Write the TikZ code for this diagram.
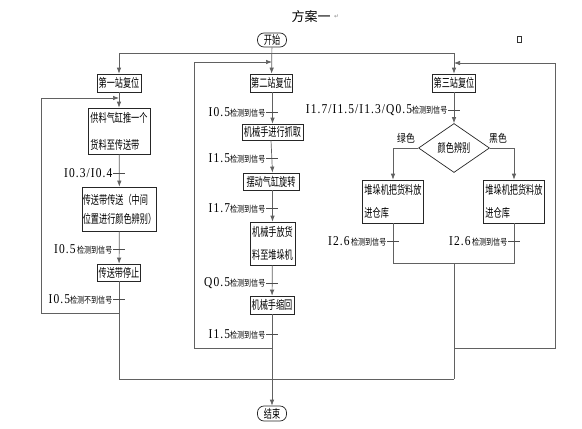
\documentclass[tikz,border=0pt]{standalone}
\usepackage{fontspec}
\setmainfont{Liberation Serif}
\newfontfamily\cjk[FakeStretch=0.68]{Noto Sans CJK SC}
\newfontfamily\cjks[FakeStretch=0.8]{Noto Sans CJK SC}
\newfontfamily\cjkt{Noto Sans CJK SC}
\newfontfamily\lat[FakeStretch=0.85,LetterSpace=8]{Liberation Serif}
\newfontfamily\sym{DejaVu Sans}
\usetikzlibrary{arrows.meta,shapes.geometric}
\newcommand{\sigtxt}[2]{{\lat\fontsize{13.5}{14}\selectfont #1}{\cjks\fontsize{8.8}{9}\selectfont #2}}
\tikzset{
  box/.style={draw=black!85, line width=0.7pt, inner sep=0.5pt, font=\cjk\fontsize{12}{14}\selectfont, align=center},
  ln/.style={draw=black!62, line width=0.7pt},
  arr/.style={ln, -{Latex[length=6pt,width=4.5pt]}},
  lbl/.style={anchor=east, inner sep=0.5pt},
  tick/.style={draw=black!70, line width=0.6pt},
  term/.style={draw=black!85, line width=0.7pt, rounded corners=6.5pt, inner sep=0.5pt, font=\cjk\fontsize{12}{14}\selectfont}
}
\begin{document}
\begin{tikzpicture}[x=1pt,y=-1pt]
\useasboundingbox (0,0) rectangle (582,429);
% title
\node (title) at (311,17) {\cjkt\fontsize{13}{13}\selectfont 方案一};
\node[anchor=west, inner sep=0, text=black!45] (ret) at (title.east) {\sym\fontsize{6}{6}\selectfont ↵};
\node[draw=black!80, line width=0.5pt, minimum width=4.5, minimum height=5.5, inner sep=0] (sq) at (519,39) {};
% terminals
\node[term, minimum width=29, minimum height=14] (start) at (272,40) {开始};
\node[term, minimum width=29, minimum height=15] (end) at (272,413.5) {结束};
% column 1
\node[box, minimum width=44, minimum height=18] (r1) at (119,83) {第一站复位};
\node[box, minimum width=62, minimum height=46, align=left, font=\cjk\fontsize{12}{27}\selectfont] (b1) at (119,131) {供料气缸推一个\\货料至传送带};
\node[box, minimum width=73, minimum height=44, align=left, font=\cjk\fontsize{12}{19}\selectfont] (b2) at (119.5,209) {传送带传送（中间\\位置进行颜色辨别）};
\node[box, minimum width=43, minimum height=17] (b3) at (119,272.5) {传送带停止};
% column 2
\node[box, minimum width=42, minimum height=18] (r2) at (271.5,83) {第二站复位};
\node[box, minimum width=61, minimum height=16] (c1) at (272.5,132) {机械手进行抓取};
\node[box, minimum width=56, minimum height=17] (c2) at (271,181.5) {摆动气缸旋转};
\node[box, minimum width=45, minimum height=43, align=left, font=\cjk\fontsize{12}{23}\selectfont] (c3) at (272.5,243.5) {机械手放货\\料至堆垛机};
\node[box, minimum width=44, minimum height=18] (c4) at (272,305) {机械手缩回};
% column 3
\node[box, minimum width=43, minimum height=18] (r3) at (454,83) {第三站复位};
\node[draw=black!85, line width=0.7pt, shape=diamond, minimum width=71, minimum height=49, inner sep=0, font=\cjk\fontsize{12}{14}\selectfont] (dia) at (454,148) {颜色辨别};
\node[box, minimum width=61, minimum height=43, align=left, font=\cjk\fontsize{12}{23}\selectfont] (dL) at (393,201.5) {堆垛机把货料放\\进仓库};
\node[box, minimum width=61, minimum height=43, align=left, font=\cjk\fontsize{12}{23}\selectfont] (dR) at (514,201.5) {堆垛机把货料放\\进仓库};
\node[font=\cjks\fontsize{11}{11}\selectfont, inner sep=0] (green) at (406,138) {绿色};
\node[font=\cjks\fontsize{11}{11}\selectfont, inner sep=0] (black) at (498,138) {黑色};
% coordinates
\coordinate (j1) at (119,53);
\coordinate (j3) at (454,53);
\coordinate (L1a) at (119,313);
\coordinate (L1b) at (119,98);
\coordinate (L1c) at (41,98);
\coordinate (L2a) at (272,348);
\coordinate (L2b) at (272,62);
\coordinate (L2c) at (194,62);
\coordinate (L3a) at (454,348);
\coordinate (L3b) at (454,63);
\coordinate (L3c) at (555,63);
\coordinate (m3) at (454,263);
\coordinate (mL) at (393,263);
\coordinate (mR) at (514,263);
\coordinate (bot1) at (119,379);
\coordinate (bot3) at (454,379);
% top connections
\draw[ln] (j1) -- (j3);
\draw[arr] (j1) -- (r1);
\draw[arr] (j3) -- (r3);
\draw[arr] (start) -- (r2);
% column 1 flow
\draw[arr] (r1) -- (b1);
\draw[arr] (b1) -- (b2);
\draw[arr] (b2) -- (b3);
\draw[ln] (b3) -- (bot1);
\draw[arr] (L1a) -| (L1c) -- (L1b);
% column 2 flow
\draw[arr] (r2.south -| c1) -- (c1);
\draw[arr] (c1.south -| c2.north) -- (c2.north -| c1.south);
\draw[arr] (c2.south -| c1.south) -- (c3.north -| c1.south);
\draw[arr] (c3) -- (c4);
\draw[arr] (c4) -- (end);
\draw[arr] (L2a) -| (L2c) -- (L2b);
% column 3 flow
\draw[arr] (r3) -- (dia);
\draw[arr] (dia.west) -| (dL.north);
\draw[arr] (dia.east) -| (dR.north);
\draw[ln] (dL) -- (mL) -- (mR) -- (dR);
\draw[ln] (m3) -- (bot3);
\draw[arr] (L3a) -| (L3c) -- (L3b);
\draw[ln] (bot1) -- (bot3);
% signal labels with ticks
\node[lbl] (s1) at (113,173) {\sigtxt{I0.3/I0.4}{}};
\node[lbl] (s2) at (113,249) {\sigtxt{I0.5}{\,检测到信号}};
\node[lbl] (s3) at (113,299) {\sigtxt{I0.5}{检测不到信号}};
\node[lbl] (s4) at (266,112) {\sigtxt{I0.5}{检测到信号}};
\node[lbl] (s5) at (266,158) {\sigtxt{I1.5}{检测到信号}};
\node[lbl] (s6) at (266,208) {\sigtxt{I1.7}{检测到信号}};
\node[lbl] (s7) at (266,283) {\sigtxt{Q0.5}{检测到信号}};
\node[lbl] (s8) at (266,334) {\sigtxt{I1.5}{检测到信号}};
\node[lbl] (s9) at (448,110) {\sigtxt{I1.7/I1.5/I1.3/Q0.5}{检测到信号}};
\node[lbl] (s10) at (387,241) {\sigtxt{I2.6}{\,检测到信号}};
\node[lbl] (s11) at (508,241) {\sigtxt{I2.6}{\,检测到信号}};
\foreach \s in {s1,s2,s3,s4,s5,s6,s7,s8,s9,s10,s11}
  \draw[tick] (\s.east) -- ++(12,0);
\end{tikzpicture}
\end{document}
